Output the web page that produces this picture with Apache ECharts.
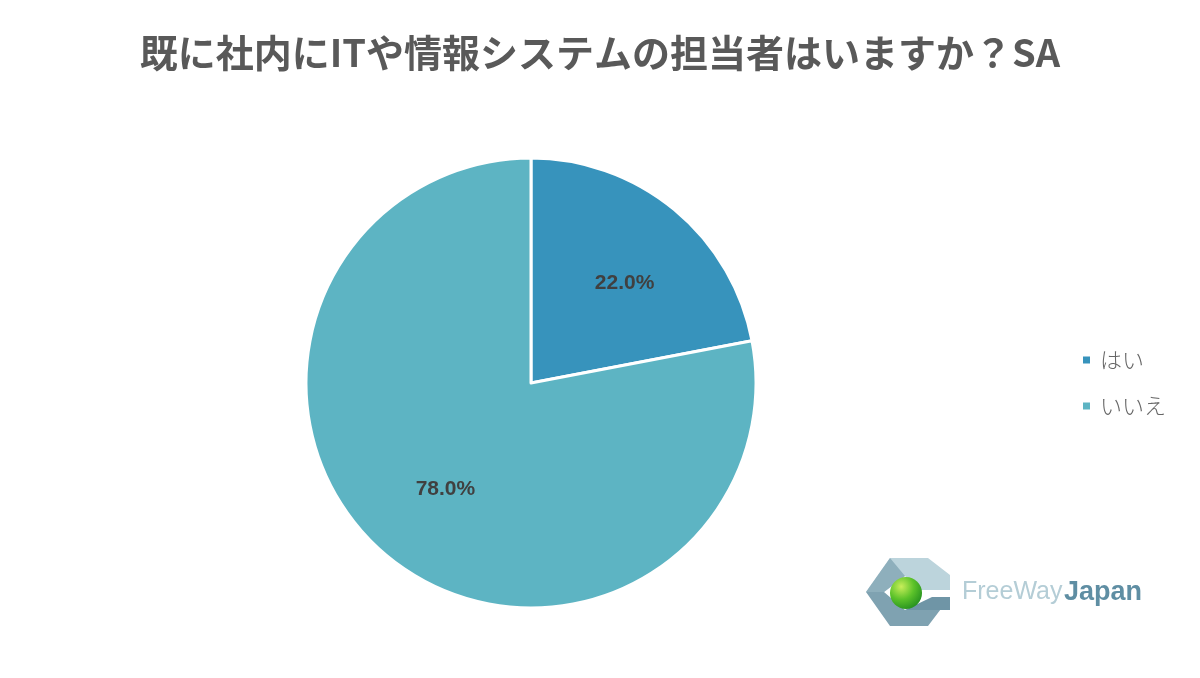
<!DOCTYPE html>
<html><head><meta charset="utf-8">
<script src="https://cdn.jsdelivr.net/npm/echarts@6/dist/echarts.min.js"></script>
<style>html,body{margin:0;padding:0;background:#fff}#c{width:1200px;height:678px}</style>
</head><body><div id="c"></div>
<script>
const titleText = '既に社内にITや情報システムの担当者はいますか？SA';
const categories = ['はい', 'いいえ'];
const values = [22.0, 78.0];
const colors = ['#3793bc', '#5db4c3'];

const chart = echarts.init(document.getElementById('c'));
const data = categories.map((n, i) => ({ name: n, value: values[i] }));
chart.setOption({
  animation: false,
  backgroundColor: '#fff',
  color: colors,
  title: {
    text: titleText, left: 'center', top: 29,
    textStyle: { fontFamily: 'Noto Sans CJK JP', fontWeight: 'bold', fontSize: 38, color: '#595959' }
  },
  legend: {
    orient: 'vertical', left: 1076, top: 344, itemGap: 24,
    icon: 'rect', itemWidth: 9, itemHeight: 9,
    textStyle: { fontFamily: 'Noto Sans CJK JP', fontSize: 22, color: '#666', fontWeight: 300, padding: [0, 0, 0, 4] },
    data: categories
  },
  series: [
    {
      type: 'pie', center: [531, 383], radius: [0, 225], startAngle: 90, clockwise: true,
      itemStyle: { borderColor: '#fff', borderWidth: 3 },
      label: { show: false }, labelLine: { show: false }, silent: true,
      data: data
    },
    {
      type: 'pie', center: [531, 383], radius: [0, 272], startAngle: 90, clockwise: true,
      itemStyle: { color: 'rgba(0,0,0,0)' }, silent: true, legendHoverLink: false,
      label: {
        show: true, position: 'inside',
        formatter: p => p.value.toFixed(1) + '%',
        fontFamily: 'Liberation Sans', fontWeight: 'bold', fontSize: 21, color: '#404040'
      },
      labelLine: { show: false },
      data: categories.map((n, i) => ({ name: n + ' ', value: values[i], label: { offset: i === 0 ? [5, 7] : [3, -1] } }))
    }
  ],
  graphic: [
    { type: 'polygon', shape: { points: [[866,592],[890,558],[928,558],[950,575],[950,590],[918,590],[905,576],[884,592]] }, style: { fill: '#bcd4dc' } },
    { type: 'polygon', shape: { points: [[866,592],[884,592],[905,610],[950,610],[950,597],[928,626],[890,626]] }, style: { fill: '#7fa2b1' } },
    { type: 'polygon', shape: { points: [[866,592],[890,558],[905,576],[884,592]] }, style: { fill: '#8eafbc' } },
    { type: 'polygon', shape: { points: [[905,610],[950,610],[950,597],[932,597]] }, style: { fill: '#6f95a6' } },
    { type: 'circle', shape: { cx: 906, cy: 593, r: 16 },
      style: { fill: { type: 'radial', x: 0.35, y: 0.3, r: 0.8, colorStops: [{ offset: 0, color: '#c8ee5a' }, { offset: 0.5, color: '#5cc22a' }, { offset: 1, color: '#1e8a1e' }] } } },
    { type: 'text', left: 962, top: 580, style: { text: 'FreeWay', fontFamily: 'Liberation Sans', fontSize: 25, fill: '#b4cdd6' } },
    { type: 'text', left: 1064, top: 579, style: { text: 'Japan', fontFamily: 'Liberation Sans', fontWeight: 'bold', fontSize: 27, fill: '#5f8ea3' } }
  ]
});
</script></body></html>
